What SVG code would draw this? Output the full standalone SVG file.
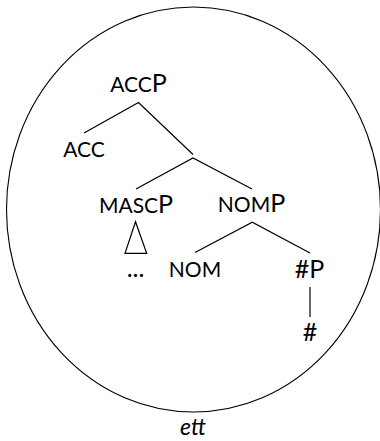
<svg xmlns="http://www.w3.org/2000/svg" width="380" height="441" viewBox="0 0 380 441">
<style>
text{font-family:Lato,"Open Sans","Liberation Sans",sans-serif;fill:#000;font-size:21px;text-anchor:middle}
.big{font-size:25px}
.it{font-style:italic;font-size:23px}
.edge{stroke:#000;stroke-width:1.2;fill:none}
</style>
<rect width="380" height="441" fill="#fff"/>
<ellipse id="circle" cx="193.5" cy="209.5" rx="187" ry="202.5" fill="none" stroke="#000" stroke-width="1.1"/>
<g id="connectors">
<polyline class="edge" points="84,133 138.5,102.5 193,154.5"/>
<polyline class="edge" points="136,189 193,158 252,189"/>
<polyline class="edge" points="195,252.5 252.3,222.3 310,253"/>
<line class="edge" x1="310" y1="287" x2="310" y2="317"/>
<polygon class="edge" points="135.5,221.7 125,253.3 146.7,253.3"/>
</g>
<g id="n-accp"><text x="138.5" y="92">ACC<tspan class="big">P</tspan></text></g>
<g id="n-acc"><text x="84" y="157">ACC</text></g>
<g id="n-mascp"><text x="136" y="213">MASC<tspan class="big">P</tspan></text></g>
<g id="n-nomp"><text x="251.5" y="212">NOM<tspan class="big">P</tspan></text></g>
<g id="n-dots"><text x="135.5" y="277" class="big">...</text></g>
<g id="n-nom"><text x="195" y="277">NOM</text></g>
<g id="n-hashp"><text x="309.5" y="277.5"><tspan class="big">#P</tspan></text></g>
<g id="n-hash"><text x="310" y="340.5" class="big">#</text></g>
<g id="label-ett"><text class="it" x="193" y="435">ett</text></g>
</svg>
